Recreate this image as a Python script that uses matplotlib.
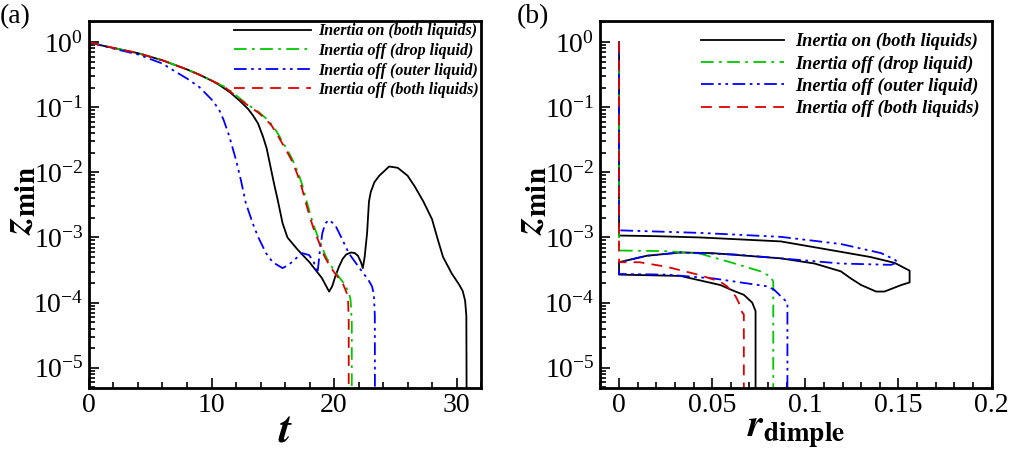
import numpy as np
import matplotlib
matplotlib.use("Agg")
import matplotlib.pyplot as plt
from matplotlib.ticker import LogLocator, MultipleLocator, NullFormatter

plt.rcParams['font.family'] = ['Liberation Serif', 'DejaVu Serif']
plt.rcParams['mathtext.fontset'] = 'stix'

labels = ['Inertia on (both liquids)', 'Inertia off (drop liquid)',
          'Inertia off (outer liquid)', 'Inertia off (both liquids)']
colors = ['black', '#00c800', '#0000ff', '#dd0000']
styles = ['-', (0, (7, 3, 1.5, 3)), (0, (7, 2.5, 1.5, 2.5, 1.5, 2.5)), (0, (6, 4))]

# (a) minimum gap height vs time, stored as log10(z_min)
t_on = [0, 1, 2, 4, 6, 8, 9, 10, 10.65, 11.5,
        12.3, 13.0, 13.4, 13.8, 14.2, 14.5, 14.8, 15.1, 15.4, 15.8,
        16.2, 17.0, 18.0, 19.0, 19.6, 19.85, 20.1, 20.4, 20.7, 21.0,
        21.4, 21.7, 21.95, 22.2, 22.35, 22.5, 22.7, 22.85, 23.0, 23.3,
        23.7, 24.5, 25.2, 26.0, 26.6, 27.3, 28.0, 28.5, 28.9, 29.6,
        30.2, 30.5, 30.7, 30.8, 30.85]
lz_on = [0, -0.05, -0.09, -0.17, -0.28, -0.42, -0.5, -0.59, -0.66, -0.77,
         -0.9, -1.03, -1.13, -1.25, -1.45, -1.63, -1.9, -2.17, -2.42, -2.78,
         -3.0, -3.18, -3.38, -3.62, -3.83, -3.75, -3.6, -3.45, -3.33, -3.26,
         -3.23, -3.24, -3.28, -3.38, -3.47, -3.3, -2.93, -2.45, -2.3, -2.15,
         -2.05, -1.91, -1.93, -2.05, -2.22, -2.45, -2.72, -3.05, -3.3, -3.55,
         -3.72, -3.82, -3.97, -4.2, -7]

t_drop = [0, 1, 2, 4, 6, 8, 9, 10, 11, 11.7,
          12.55, 13.2, 13.9, 14.5, 15.0, 15.4, 15.8, 16.2, 16.6, 16.9,
          17.15, 17.45, 17.7, 18.0, 18.2, 18.5, 18.8, 19.3, 19.7, 20.1,
          20.5, 20.8, 21.2, 21.35, 21.45, 21.45]
lz_drop = [0, -0.05, -0.09, -0.17, -0.28, -0.42, -0.5, -0.59, -0.68, -0.77,
           -0.9, -0.99, -1.08, -1.18, -1.28, -1.4, -1.53, -1.66, -1.8, -1.93,
           -2.05, -2.22, -2.4, -2.6, -2.73, -2.9, -3.04, -3.28, -3.42, -3.53,
           -3.63, -3.7, -3.84, -3.95, -4.3, -7]

t_outer = [0, 1, 2, 4, 6, 6.85, 8, 9, 10, 10.6,
           11.0, 11.46, 12.0, 12.4, 12.8, 13.36, 13.8, 14.45, 15.0, 15.8,
           16.3, 16.9, 17.4, 17.97, 18.35, 18.65, 18.85, 19.05, 19.3, 19.6,
           20.1, 20.7, 21.2, 22.0, 22.8, 23.1, 23.25, 23.33, 23.35]
lz_outer = [0, -0.05, -0.1, -0.19, -0.33, -0.43, -0.56, -0.69, -0.88, -1.03,
            -1.2, -1.45, -1.81, -2.12, -2.47, -2.78, -2.99, -3.24, -3.38, -3.47,
            -3.42, -3.32, -3.24, -3.27, -3.38, -3.55, -3.2, -2.93, -2.78, -2.73,
            -2.81, -3.04, -3.24, -3.45, -3.65, -3.75, -3.87, -4.2, -7]

t_both = [0, 1, 2, 4, 6, 8, 9, 10, 11, 11.6,
          12.45, 13.1, 13.8, 14.4, 14.9, 15.3, 15.7, 16.1, 16.5, 16.8,
          17.05, 17.35, 17.6, 17.9, 18.1, 18.4, 18.7, 19.2, 19.6, 20.0,
          20.4, 20.75, 21.05, 21.15, 21.2, 21.2]
lz_both = [0, -0.05, -0.09, -0.17, -0.28, -0.42, -0.5, -0.59, -0.68, -0.77,
           -0.9, -0.99, -1.08, -1.18, -1.28, -1.4, -1.53, -1.66, -1.8, -1.93,
           -2.05, -2.22, -2.4, -2.6, -2.73, -2.9, -3.04, -3.28, -3.42, -3.53,
           -3.63, -3.72, -3.86, -3.97, -4.3, -7]

# (b) minimum gap height vs dimple radius
r_on = [0, 0, 0.02, 0.044, 0.0868, 0.1191, 0.135, 0.148, 0.156, 0.156,
        0.1515, 0.1425, 0.138, 0.13, 0.1245, 0.1191, 0.105, 0.0868, 0.05, 0.033,
        0.015, 0, 0, 0.0329, 0.0544, 0.0616, 0.067, 0.0715, 0.0733, 0.0733]
rz_on = [0, -2.97, -2.98, -3.0, -3.06, -3.22, -3.3, -3.39, -3.51, -3.69,
         -3.73, -3.83, -3.83, -3.73, -3.63, -3.52, -3.4, -3.32, -3.24, -3.23,
         -3.28, -3.38, -3.57, -3.59, -3.73, -3.82, -3.88, -4.0, -4.13, -7]

r_drop = [0, 0, 0.0256, 0.0437, 0.0598, 0.076, 0.0814, 0.0828, 0.0828]
rz_drop = [0, -3.2, -3.21, -3.25, -3.38, -3.52, -3.6, -3.68, -7]

r_outer = [0, 0, 0.044, 0.0868, 0.1191, 0.1407, 0.148, 0.1497, 0.146, 0.1191,
           0.0868, 0.0616, 0.0329, 0.015, 0, 0, 0.0256, 0.0509, 0.0796, 0.0832,
           0.0868, 0.0904, 0.0904]
rz_outer = [0, -2.89, -2.93, -2.99, -3.1, -3.24, -3.34, -3.38, -3.42, -3.4,
            -3.32, -3.26, -3.23, -3.28, -3.38, -3.56, -3.57, -3.63, -3.75, -3.8,
            -3.9, -4.0, -7]

r_both = [0, 0, 0.011, 0.0256, 0.0437, 0.0544, 0.058, 0.0625, 0.0643, 0.0661, 0.067, 0.067]
rz_both = [0, -3.38, -3.38, -3.45, -3.58, -3.68, -3.75, -3.9, -4.0, -4.15, -4.18, -7]

fig = plt.figure(figsize=(10.17, 4.49), dpi=100)
ax1 = fig.add_axes([0.0875, 0.136, 0.3855, 0.817])
ax2 = fig.add_axes([0.590, 0.136, 0.385, 0.817])

series_a = [(t_on, lz_on), (t_drop, lz_drop), (t_outer, lz_outer), (t_both, lz_both)]
series_b = [(r_on, rz_on), (r_drop, rz_drop), (r_outer, rz_outer), (r_both, rz_both)]

for (x, lz), c, ls, lab in zip(series_a, colors, styles, labels):
    ax1.plot(x, 10.0 ** np.array(lz), color=c, ls=ls, lw=1.3, label=lab)
for (x, lz), c, ls, lab in zip(series_b, colors, styles, labels):
    ax2.plot(x, 10.0 ** np.array(lz), color=c, ls=ls, lw=1.3, label=lab)

for ax in (ax1, ax2):
    ax.set_yscale('log')
    ax.set_ylim(4.9e-6, 2.1)
    ax.yaxis.set_major_locator(LogLocator(base=10, numticks=10))
    ax.yaxis.set_minor_locator(LogLocator(base=10, subs=np.arange(2, 10), numticks=20))
    ax.yaxis.set_minor_formatter(NullFormatter())
    ax.tick_params(which='both', direction='in', top=False, right=False,
                   labelsize=20, width=1.2)
    ax.tick_params(which='major', length=7, pad=4)
    ax.tick_params(which='minor', length=4)
    for sp in ax.spines.values():
        sp.set_linewidth(2)
    ax.set_ylabel(r'$\mathbfit{z}_{\mathbf{min}}$', fontsize=30)
    ax.yaxis.set_label_coords(-0.127, 0.51)

ax1.set_xlim(0, 32)
ax1.xaxis.set_major_locator(MultipleLocator(10))
ax1.xaxis.set_minor_locator(MultipleLocator(2))
ax1.set_xlabel(r'$\mathbfit{t}$', fontsize=32, labelpad=-6)

ax2.set_xlim(-0.0102, 0.2)
ax2.xaxis.set_minor_locator(MultipleLocator(0.01))
ax2.set_xticks([0, 0.05, 0.1, 0.15, 0.2])
ax2.set_xticklabels(['0', '0.05', '0.1', '0.15', '0.2'])
ax2.set_xlabel(r'$\mathbfit{r}_{\mathbf{dimple}}$', fontsize=28, labelpad=-4)

leg_font = {'family': 'Liberation Serif', 'weight': 'bold', 'style': 'italic'}
ax1.legend(loc='upper right', frameon=False, prop=dict(leg_font, size=11.5),
           handlelength=4.8, handletextpad=0.45, labelspacing=0.22,
           borderpad=0.15, borderaxespad=0.0)
ax2.legend(loc='upper right', frameon=False, prop=dict(leg_font, size=13.2),
           handlelength=4.5, handletextpad=0.63, labelspacing=0.27,
           borderpad=0.1, borderaxespad=0.55)

fig.text(0.0, 0.99, '(a)', fontsize=20, va='top', ha='left')
fig.text(0.508, 0.99, '(b)', fontsize=20, va='top', ha='left')

fig.savefig('out.png', dpi=100)
